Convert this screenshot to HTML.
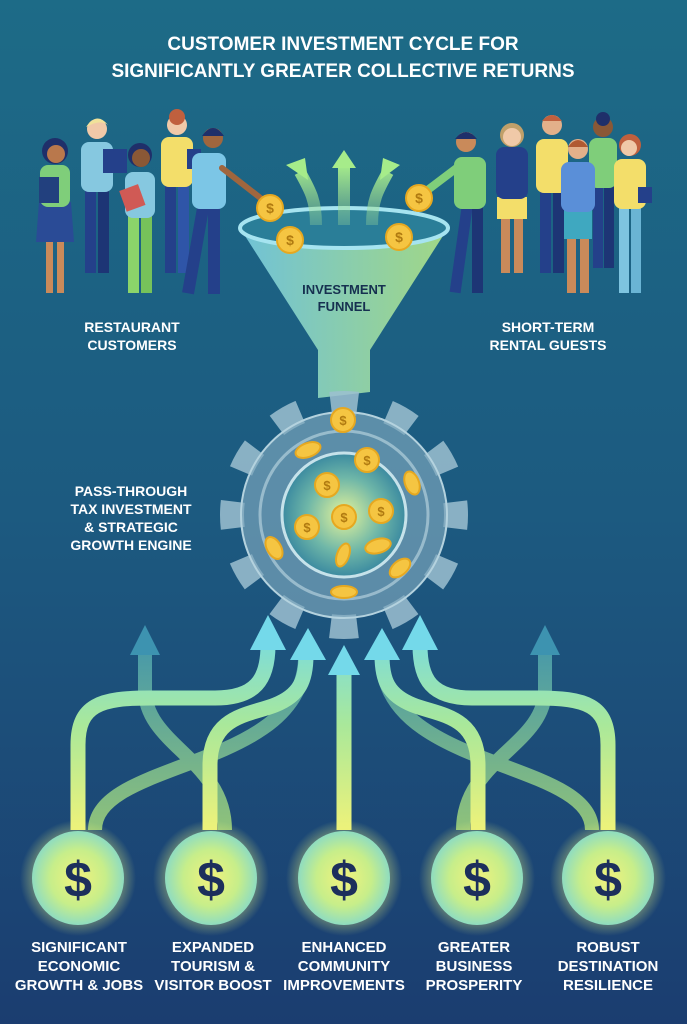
<!DOCTYPE html>
<html><head><meta charset="utf-8"><style>
html,body{margin:0;padding:0;width:687px;height:1024px;overflow:hidden}
svg{display:block}
.t{font-family:"Liberation Sans",sans-serif;font-weight:bold;fill:#fff;text-anchor:middle}
.n{font-family:"Liberation Sans Narrow","Liberation Sans",sans-serif;font-weight:bold;fill:#fff;text-anchor:middle;font-size:15px}
.d{font-family:"Liberation Sans",sans-serif;font-weight:bold;fill:#b07a10;text-anchor:middle}
</style></head><body>
<svg width="687" height="1024" viewBox="0 0 687 1024" xmlns="http://www.w3.org/2000/svg">
<defs>
<linearGradient id="bg" x1="0" y1="0" x2="0" y2="1">
<stop offset="0" stop-color="#1d6b87"/><stop offset="0.5" stop-color="#1c5a80"/><stop offset="1" stop-color="#1b3d70"/></linearGradient>
<linearGradient id="ar" x1="0" y1="830" x2="0" y2="620" gradientUnits="userSpaceOnUse">
<stop offset="0" stop-color="#eef27a"/><stop offset="0.5" stop-color="#a9e89a"/><stop offset="1" stop-color="#72d9ea"/></linearGradient>
<linearGradient id="ar2" x1="0" y1="830" x2="0" y2="620" gradientUnits="userSpaceOnUse">
<stop offset="0" stop-color="#8fc27a"/><stop offset="1" stop-color="#3d93b0"/></linearGradient>
<linearGradient id="fun" x1="0" y1="0" x2="1" y2="0">
<stop offset="0" stop-color="#7fd3e6"/><stop offset="1" stop-color="#b9ec86"/></linearGradient>
<linearGradient id="fa" x1="0" y1="1" x2="0" y2="0">
<stop offset="0" stop-color="#9fdc9a" stop-opacity=".3"/><stop offset="1" stop-color="#a6ec8a"/></linearGradient>
<radialGradient id="coin"><stop offset="0" stop-color="#f1f27c"/><stop offset="0.6" stop-color="#c7ee8a"/><stop offset="1" stop-color="#8fdcc0"/></radialGradient>
<radialGradient id="glow"><stop offset="0.6" stop-color="#e8f27a" stop-opacity=".6"/><stop offset="1" stop-color="#e8f27a" stop-opacity="0"/></radialGradient>
<radialGradient id="gin"><stop offset="0" stop-color="#e6f49a"/><stop offset="0.6" stop-color="#6fb7a8"/><stop offset="1" stop-color="#3b8aa0"/></radialGradient>
</defs>
<rect width="687" height="1024" fill="url(#bg)"/>

<text class="t" x="343" y="50" font-size="19">CUSTOMER INVESTMENT CYCLE FOR</text>
<text class="t" x="343" y="77" font-size="19">SIGNIFICANTLY GREATER COLLECTIVE RETURNS</text>

<g>
<g transform="translate(55,297)"><rect x="-9" y="-80" width="7" height="76" fill="#c98a5a"/><rect x="2" y="-80" width="7" height="76" fill="#c98a5a"/><path d="M-16 -95 H16 L19 -55 H-19Z" fill="#2a4b96"/><rect x="-15" y="-132" width="30" height="42" rx="8" fill="#7fce7a"/><rect x="-16" y="-120" width="20" height="26" fill="#22407e"/><circle cx="0" cy="-146" r="13" fill="#1f2f6a"/><circle cx="1" cy="-143" r="9" fill="#b9784c"/></g>
<g transform="translate(97,277)"><rect x="-12" y="-90" width="11" height="86" fill="#24408a"/><rect x="1" y="-90" width="11" height="86" fill="#1d3575"/><rect x="-16" y="-135" width="32" height="50" rx="8" fill="#86c8e0"/><rect x="6" y="-128" width="24" height="24" fill="#24408a"/><circle cx="0" cy="-148" r="10" fill="#f0c9a8"/><path d="M-11 -150 Q0 -166 11 -152 Q4 -158 -11 -150Z" fill="#f0e29a"/></g>
<g transform="translate(140,297)"><rect x="-12" y="-82" width="11" height="78" fill="#8bd46a"/><rect x="1" y="-82" width="11" height="78" fill="#76c25a"/><rect x="-15" y="-125" width="30" height="46" rx="8" fill="#86c8e0"/><rect x="-18" y="-110" width="20" height="22" fill="#d05a55" transform="rotate(-20 -8 -100)"/><circle cx="0" cy="-142" r="12" fill="#1f2f6a"/><circle cx="1" cy="-139" r="9" fill="#8a5836"/></g>
<g transform="translate(177,277)"><rect x="-12" y="-95" width="11" height="91" fill="#24408a"/><rect x="1" y="-95" width="11" height="91" fill="#2f55a8"/><rect x="-16" y="-140" width="32" height="50" rx="8" fill="#f3de6a"/><rect x="10" y="-128" width="14" height="20" fill="#24408a"/><circle cx="0" cy="-152" r="10" fill="#f0c9a8"/><circle cx="0" cy="-160" r="8" fill="#c0603e"/></g>
<g transform="translate(208,298)"><rect x="-18" y="-95" width="12" height="91" fill="#24408a" transform="rotate(10 -12 -50)"/><rect x="0" y="-95" width="12" height="91" fill="#24408a"/><rect x="-16" y="-145" width="34" height="56" rx="8" fill="#7cc6e6"/><path d="M14 -130 L55 -98" stroke="#a0663e" stroke-width="6" stroke-linecap="round"/><circle cx="5" cy="-160" r="10" fill="#a0663e"/><path d="M-6 -162 Q5 -178 16 -162Z" fill="#1f2f6a"/></g>
</g>
<g>
<g transform="translate(470,297)"><rect x="-14" y="-92" width="11" height="88" fill="#24408a" transform="rotate(8 -8 -50)"/><rect x="2" y="-92" width="11" height="88" fill="#1d3575"/><rect x="-16" y="-140" width="32" height="52" rx="8" fill="#7fce7a"/><path d="M-12 -130 L-45 -105" stroke="#7fce7a" stroke-width="8" stroke-linecap="round"/><circle cx="-4" cy="-155" r="10" fill="#c98a5a"/><path d="M-15 -158 Q-4 -172 7 -158Z" fill="#1f2f6a"/></g>
<g transform="translate(512,277)"><rect x="-11" y="-60" width="9" height="56" fill="#c98a5a"/><rect x="2" y="-60" width="9" height="56" fill="#c98a5a"/><rect x="-15" y="-80" width="30" height="22" fill="#f3de6a"/><rect x="-16" y="-130" width="32" height="52" rx="8" fill="#24408a"/><circle cx="0" cy="-142" r="12" fill="#c0a06a"/><circle cx="0" cy="-140" r="9" fill="#f0c9a8"/></g>
<g transform="translate(552,277)"><rect x="-12" y="-88" width="11" height="84" fill="#24408a"/><rect x="1" y="-88" width="11" height="84" fill="#1d3575"/><rect x="-16" y="-138" width="32" height="54" rx="8" fill="#f3de6a"/><circle cx="0" cy="-152" r="10" fill="#e3b08a"/><path d="M-10 -156 Q0 -168 10 -156Z" fill="#c0603e"/></g>
<g transform="translate(603,272)"><rect x="-10" y="-90" width="10" height="86" fill="#24408a"/><rect x="1" y="-90" width="10" height="86" fill="#1d3575"/><rect x="-14" y="-134" width="28" height="50" rx="8" fill="#7fce7a"/><circle cx="0" cy="-145" r="10" fill="#8a5836"/><circle cx="0" cy="-153" r="7" fill="#1f2f6a"/></g>
<g transform="translate(578,297)"><rect x="-11" y="-60" width="9" height="56" fill="#c98a5a"/><rect x="2" y="-60" width="9" height="56" fill="#c98a5a"/><rect x="-14" y="-90" width="28" height="32" fill="#3fa8c0"/><rect x="-17" y="-135" width="34" height="50" rx="8" fill="#5a8fd8"/><circle cx="0" cy="-148" r="10" fill="#e3b08a"/><path d="M-10 -150 Q0 -164 10 -150Z" fill="#b05a32"/></g>
<g transform="translate(630,297)"><rect x="-11" y="-95" width="10" height="91" fill="#7ec4e0"/><rect x="1" y="-95" width="10" height="91" fill="#6ab4d4"/><rect x="-16" y="-138" width="32" height="50" rx="8" fill="#f3de6a"/><rect x="8" y="-110" width="14" height="16" fill="#24408a"/><circle cx="0" cy="-152" r="11" fill="#c0603e"/><circle cx="-1" cy="-149" r="8" fill="#f0c9a8"/></g>
</g>

<text class="t" x="132" y="332" font-size="14">RESTAURANT</text>
<text class="t" x="132" y="350" font-size="14">CUSTOMERS</text>
<text class="t" x="548" y="332" font-size="14">SHORT-TERM</text>
<text class="t" x="548" y="350" font-size="14">RENTAL GUESTS</text>

<path d="M240 228 L318 350 V398 L370 392 V350 L448 228Z" fill="url(#fun)" opacity=".85"/>
<ellipse cx="344" cy="228" rx="104" ry="20" fill="#2a7e98" stroke="#a6e4f0" stroke-width="4"/>
<path d="M316 225 C316 200 310 190 300 172 M344 225 V165 M372 225 C372 200 378 190 388 172" stroke="url(#fa)" stroke-width="12" fill="none"/>
<path d="M286 165 L305 158 L308 180Z M332 168 L344 150 L356 168Z M400 165 L383 158 L380 180Z" fill="#a6ec8a"/>
<text class="t" x="344" y="294" font-size="13" style="fill:#163050">INVESTMENT</text>
<text class="t" x="344" y="311" font-size="13" style="fill:#163050">FUNNEL</text>

<g fill="#f5c542" stroke="#e6a820" stroke-width="2">
<circle cx="270" cy="208" r="13"/><circle cx="290" cy="240" r="13"/><circle cx="399" cy="237" r="13"/><circle cx="419" cy="198" r="13"/>
</g>
<g class="d" font-size="14"><text x="270" y="213">$</text><text x="290" y="245">$</text><text x="399" y="242">$</text><text x="419" y="203">$</text></g>

<g fill="none" stroke-width="14" stroke="url(#ar2)">
<path d="M225 830 C225 760 145 745 145 690 V650"/>
<path d="M463 830 C463 760 545 745 545 690 V650"/>
<path d="M95 830 C95 760 300 770 305 660"/>
<path d="M592 830 C592 760 385 770 382 660"/>
</g>
<g fill="#3d93b0"><path d="M130 655 L145 625 L160 655Z M530 655 L545 625 L560 655Z"/></g>

<circle cx="344" cy="515" r="112" fill="none" stroke="#9cbfd0" stroke-opacity=".85" stroke-width="24" stroke-dasharray="27 31.64" stroke-dashoffset="13.5"/>
<circle cx="344" cy="515" r="103" fill="#7fa9bf" fill-opacity=".65" stroke="#b4d2de" stroke-width="2"/>
<circle cx="344" cy="515" r="84" fill="none" stroke="#c0dbe5" stroke-opacity=".6" stroke-width="3"/>
<circle cx="344" cy="515" r="62" fill="url(#gin)" stroke="#c6e2ea" stroke-width="3"/>
<g fill="#f5c542" stroke="#e6a820" stroke-width="2">
<circle cx="343" cy="420" r="12"/><circle cx="367" cy="460" r="12"/><circle cx="327" cy="485" r="12"/><circle cx="381" cy="511" r="12"/><circle cx="344" cy="517" r="12"/><circle cx="307" cy="527" r="12"/>
<ellipse cx="308" cy="450" rx="13" ry="7" transform="rotate(-20 308 450)"/><ellipse cx="412" cy="483" rx="7" ry="12" transform="rotate(-20 412 483)"/><ellipse cx="274" cy="548" rx="7" ry="12" transform="rotate(-30 274 548)"/><ellipse cx="343" cy="555" rx="6" ry="12" transform="rotate(20 343 555)"/><ellipse cx="378" cy="546" rx="13" ry="7" transform="rotate(-15 378 546)"/><ellipse cx="400" cy="568" rx="12" ry="7" transform="rotate(-40 400 568)"/><ellipse cx="344" cy="592" rx="13" ry="6"/>
</g>
<g class="d" font-size="13"><text x="343" y="425">$</text><text x="367" y="465">$</text><text x="327" y="490">$</text><text x="381" y="516">$</text><text x="344" y="522">$</text><text x="307" y="532">$</text></g>

<text class="t" x="131" y="496" font-size="14">PASS-THROUGH</text>
<text class="t" x="131" y="514" font-size="14">TAX INVESTMENT</text>
<text class="t" x="131" y="532" font-size="14">&amp; STRATEGIC</text>
<text class="t" x="131" y="550" font-size="14">GROWTH ENGINE</text>

<g fill="none" stroke-width="15" stroke="url(#ar)">
<path d="M78 830 V745 C78 705 100 698 150 698 H215 C255 698 268 680 268 645"/>
<path d="M210 830 V765 C210 715 250 715 275 705 C300 695 306 680 306 655"/>
<path d="M344 830 V670"/>
<path d="M478 830 V765 C478 715 438 715 413 705 C388 695 382 680 382 655"/>
<path d="M608 830 V745 C608 705 586 698 536 698 H472 C432 698 420 680 420 645"/>
</g>
<g fill="#74d9ea">
<path d="M250 650 L268 615 L286 650Z"/><path d="M290 660 L308 628 L326 660Z"/><path d="M328 675 L344 645 L360 675Z"/><path d="M364 660 L382 628 L400 660Z"/><path d="M402 650 L420 615 L438 650Z"/>
</g>

<g>
<circle cx="78" cy="878" r="58" fill="url(#glow)"/><circle cx="211" cy="878" r="58" fill="url(#glow)"/><circle cx="344" cy="878" r="58" fill="url(#glow)"/><circle cx="477" cy="878" r="58" fill="url(#glow)"/><circle cx="608" cy="878" r="58" fill="url(#glow)"/>
<g fill="url(#coin)"><ellipse cx="78" cy="878" rx="46" ry="47"/><ellipse cx="211" cy="878" rx="46" ry="47"/><ellipse cx="344" cy="878" rx="46" ry="47"/><ellipse cx="477" cy="878" rx="46" ry="47"/><ellipse cx="608" cy="878" rx="46" ry="47"/></g>
<g font-family="Liberation Sans,sans-serif" font-weight="bold" font-size="50" fill="#1c2f5c" text-anchor="middle">
<text x="78" y="897">$</text><text x="211" y="897">$</text><text x="344" y="897">$</text><text x="477" y="897">$</text><text x="608" y="897">$</text></g>
</g>

<g class="n">
<text x="79" y="952">SIGNIFICANT</text><text x="79" y="971">ECONOMIC</text><text x="79" y="990">GROWTH &amp; JOBS</text>
<text x="213" y="952">EXPANDED</text><text x="213" y="971">TOURISM &amp;</text><text x="213" y="990">VISITOR BOOST</text>
<text x="344" y="952">ENHANCED</text><text x="344" y="971">COMMUNITY</text><text x="344" y="990">IMPROVEMENTS</text>
<text x="474" y="952">GREATER</text><text x="474" y="971">BUSINESS</text><text x="474" y="990">PROSPERITY</text>
<text x="608" y="952">ROBUST</text><text x="608" y="971">DESTINATION</text><text x="608" y="990">RESILIENCE</text>
</g>
</svg>
</body></html>
